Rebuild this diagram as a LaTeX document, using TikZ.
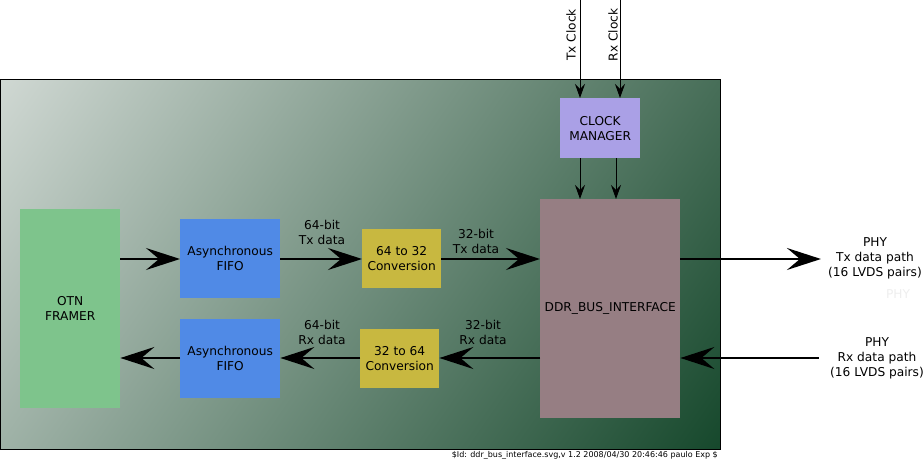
\documentclass[tikz,border=0pt]{standalone}
\usepackage{fontspec}
\setmainfont{DejaVu Sans}
\usetikzlibrary{arrows.meta,calc}
\definecolor{bglight}{RGB}{208,216,211}
\definecolor{bgdark}{RGB}{22,72,44}
\definecolor{otncol}{RGB}{126,196,140}
\definecolor{fifocol}{RGB}{80,138,230}
\definecolor{convcol}{RGB}{200,184,64}
\definecolor{ddrcol}{RGB}{150,126,131}
\definecolor{clkcol}{RGB}{170,160,230}
\definecolor{faint}{RGB}{238,238,238}
\tikzset{
  blk/.style={draw=none, inner sep=0pt, align=center, anchor=north west, font=\fontsize{12.2}{15}\selectfont},
  lbl/.style={inner sep=0pt, align=center, font=\fontsize{12.2}{15}\selectfont},
  bigarrow/.style={line width=2pt, -{Stealth[length=34pt,width=22pt,inset=13pt]}},
  clkarrow/.style={line width=1pt, -{Stealth[length=14pt,width=10pt,inset=5pt]}},
}
\begin{document}
\begin{tikzpicture}[x=1pt,y=-1pt]
\useasboundingbox (0,0) rectangle (924,461);
% panel with diagonal gradient
\begin{scope}
\clip (0,79) rectangle (720,449);
\begin{scope}[transform canvas={shift={(360,264)}, rotate=-35}]
\shade[left color=bglight, right color=bgdark] (-402,-360) rectangle (402,360);
\end{scope}
\end{scope}
\draw[line width=1pt] (0,79) rectangle (720,449);
% blocks
\node[blk, fill=otncol, minimum width=100pt, minimum height=199pt] (otn) at (20,209) {OTN\\FRAMER};
\node[blk, fill=fifocol, minimum width=100pt, minimum height=79pt] (fifotx) at (180,219) {Asynchronous\\FIFO};
\node[blk, fill=fifocol, minimum width=100pt, minimum height=79pt] (fiforx) at (180,319) {Asynchronous\\FIFO};
\node[blk, fill=convcol, minimum width=79pt, minimum height=59pt] (convtx) at (362,229) {64 to 32\\Conversion};
\node[blk, fill=convcol, minimum width=79pt, minimum height=59pt] (convrx) at (360,329) {32 to 64\\Conversion};
\node[blk, fill=ddrcol, minimum width=140pt, minimum height=219pt] (ddr) at (540,199) {DDR\_BUS\_INTERFACE};
\node[blk, fill=clkcol, minimum width=80pt, minimum height=60pt] (clk) at (560,98) {CLOCK\\MANAGER};
% labels
\node[lbl] (l1) at (322,232) {64-bit\\Tx data};
\node[lbl] (l2) at (476,241) {32-bit\\Tx data};
\node[lbl] (l3) at (322,332) {64-bit\\Rx data};
\node[lbl] (l4) at (483,332) {32-bit\\Rx data};
\node[lbl, inner xsep=7pt] (phytx) at (875,258) {PHY\\Tx data path\\(16 LVDS pairs)};
\node[lbl, inner xsep=11pt] (phyrx) at (877,358) {PHY\\Rx data path\\(16 LVDS pairs)};
\node[lbl, text=faint] (phyghost) at (898,294) {PHY};
\node[lbl, rotate=90] (txclk) at (571,35) {Tx Clock};
\node[lbl, rotate=90] (rxclk) at (613,35) {Rx Clock};
\node[inner sep=0pt, anchor=east, font=\fontsize{8}{9}\selectfont] (footer) at (718,455) {\$Id: ddr\_bus\_interface.svg,v 1.2 2008/04/30 20:46:46 paulo Exp \$};
% coordinates for clock lines
\coordinate (txtop) at (580,0);
\coordinate (rxtop) at (620,0);
\coordinate (txlow) at (580,0);
\coordinate (rxlow) at (616,0);
\coordinate (ytx) at (0,259);
\coordinate (yrx) at (0,358);
% tx path
\draw[bigarrow] (otn.east |- ytx) -- (fifotx.west |- ytx);
\draw[bigarrow] (fifotx.east |- ytx) -- (convtx.west |- ytx);
\draw[bigarrow] (convtx.east |- ytx) -- (ddr.west |- ytx);
\draw[bigarrow] (ddr.east |- ytx) -- (phytx.west |- ytx);
% rx path
\draw[bigarrow] (phyrx.west |- yrx) -- (ddr.east |- yrx);
\draw[bigarrow] (ddr.west |- yrx) -- (convrx.east |- yrx);
\draw[bigarrow] (convrx.west |- yrx) -- (fiforx.east |- yrx);
\draw[bigarrow] (fiforx.west |- yrx) -- (otn.east |- yrx);
% clocks
\draw[clkarrow] (txtop) -- (clk.north -| txtop);
\draw[clkarrow] (rxtop) -- (clk.north -| rxtop);
\draw[clkarrow] (clk.south -| txlow) -- (ddr.north -| txlow);
\draw[clkarrow] (clk.south -| rxlow) -- (ddr.north -| rxlow);
\end{tikzpicture}
\end{document}
